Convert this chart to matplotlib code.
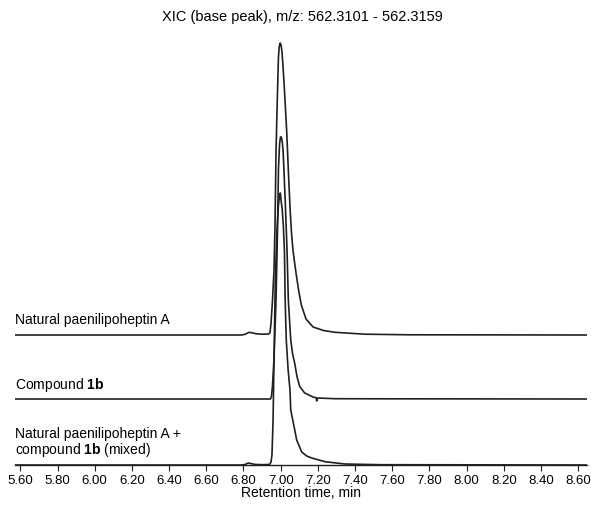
import numpy as np
import matplotlib
matplotlib.use('Agg')
import matplotlib.pyplot as plt

plt.rcParams['font.family'] = ['Liberation Sans', 'DejaVu Sans']
plt.rcParams['mathtext.fontset'] = 'custom'
plt.rcParams['mathtext.rm'] = 'Liberation Sans'
plt.rcParams['mathtext.bf'] = 'Liberation Sans:bold'

# retention time (min) and intensity (arbitrary units)
natural_t = [5.57, 6.79, 6.81, 6.83, 6.85, 6.87, 6.90, 6.935, 6.942, 6.948, 6.956, 6.964,
             6.969, 6.975, 6.983, 6.988, 6.992, 6.997, 7.002, 7.007, 7.012, 7.018, 7.032,
             7.041, 7.050, 7.058, 7.066, 7.075, 7.084, 7.096, 7.111, 7.136, 7.174, 7.23,
             7.292, 7.453, 7.70, 8.65]
natural_i = [0, 0, 0.8, 2.7, 2.0, 1.2, 0.8, 1.0, 2, 12, 35, 65,
             105, 185, 245, 278, 288, 292, 290, 283, 270, 252, 205,
             165, 128, 102, 85, 72, 60, 45, 30, 16, 8, 4.5,
             2.7, 0.8, 0.2, 0]

synth_t = [5.57, 6.945, 6.951, 6.956, 6.964, 6.975, 6.983, 6.988, 6.994, 6.999, 7.003,
           7.008, 7.013, 7.024, 7.034, 7.041, 7.054, 7.064, 7.075, 7.088, 7.102, 7.129,
           7.174, 7.19, 7.194, 7.198, 7.292, 7.50, 8.65]
synth_i = [0, 0, 3, 14, 40, 100, 170, 230, 255, 262, 262,
           258, 248, 200, 149, 99, 59, 45, 36, 22, 12.6, 6,
           2.0, 1.3, -2, 1.0, 0.3, 0.2, 0]

mixed_t = [5.57, 6.79, 6.81, 6.825, 6.84, 6.86, 6.90, 6.94, 6.948, 6.953, 6.959, 6.964,
           6.971, 6.980, 6.988, 6.994, 6.998, 7.003, 7.008, 7.014, 7.020, 7.024, 7.030,
           7.040, 7.050, 7.054, 7.068, 7.086, 7.113, 7.140, 7.167, 7.238, 7.346, 7.534, 8.65]
mixed_i = [0, 0, 0.6, 2, 1.5, 0.6, 0.3, 0.5, 3, 10, 45, 105,
           185, 235, 260, 270, 272, 263, 256, 240, 215, 165, 125,
           95, 75, 55, 42, 25, 13, 9, 7, 3.3, 1, 0.3, 0]

offsets = [130, 66, 0]
ticks = np.arange(5.6, 8.61, 0.2)

W, H = 591, 508
fig = plt.figure(figsize=(W/100, H/100), dpi=100)
ax = fig.add_axes([15/W, 43/H, 572/W, 435/H])

col = '#231f20'
for (t, i), off in zip([(natural_t, natural_i), (synth_t, synth_i), (mixed_t, mixed_i)], offsets):
    ax.plot(t, np.array(i) + off, color=col, lw=1.2, solid_joinstyle='round')

ax.set_xlim(5.5715, 8.6468)
ax.set_ylim(0, 435)
for s in ['top', 'right', 'left']:
    ax.spines[s].set_visible(False)
ax.spines['bottom'].set_color(col)
ax.spines['bottom'].set_linewidth(1.0)
ax.set_yticks([])
ax.set_xticks(ticks)
ax.set_xticklabels([f'{v:.2f}' for v in ticks], fontsize=9.5)
ax.tick_params(axis='x', direction='out', length=4, width=0.8, color=col, pad=3)

fig.text(0.512, 1 - 17/H, 'XIC (base peak), m/z: 562.3101 - 562.3159', ha='center', va='center', fontsize=10.5)
fig.text((15 + 572/2)/W, 1 - 493/H, 'Retention time, min', ha='center', va='center', fontsize=10)

fig.text(15/W, 1 - 320/H, 'Natural paenilipoheptin A', ha='left', va='center', fontsize=10)
fig.text(15/W, 1 - 385/H, r'Compound $\mathbf{1b}$', ha='left', va='center', fontsize=10)
fig.text(15/W, 1 - 434/H, 'Natural paenilipoheptin A +', ha='left', va='center', fontsize=10)
fig.text(15/W, 1 - 450/H, r'compound $\mathbf{1b}$ (mixed)', ha='left', va='center', fontsize=10)

fig.savefig('out.png', dpi=100)
